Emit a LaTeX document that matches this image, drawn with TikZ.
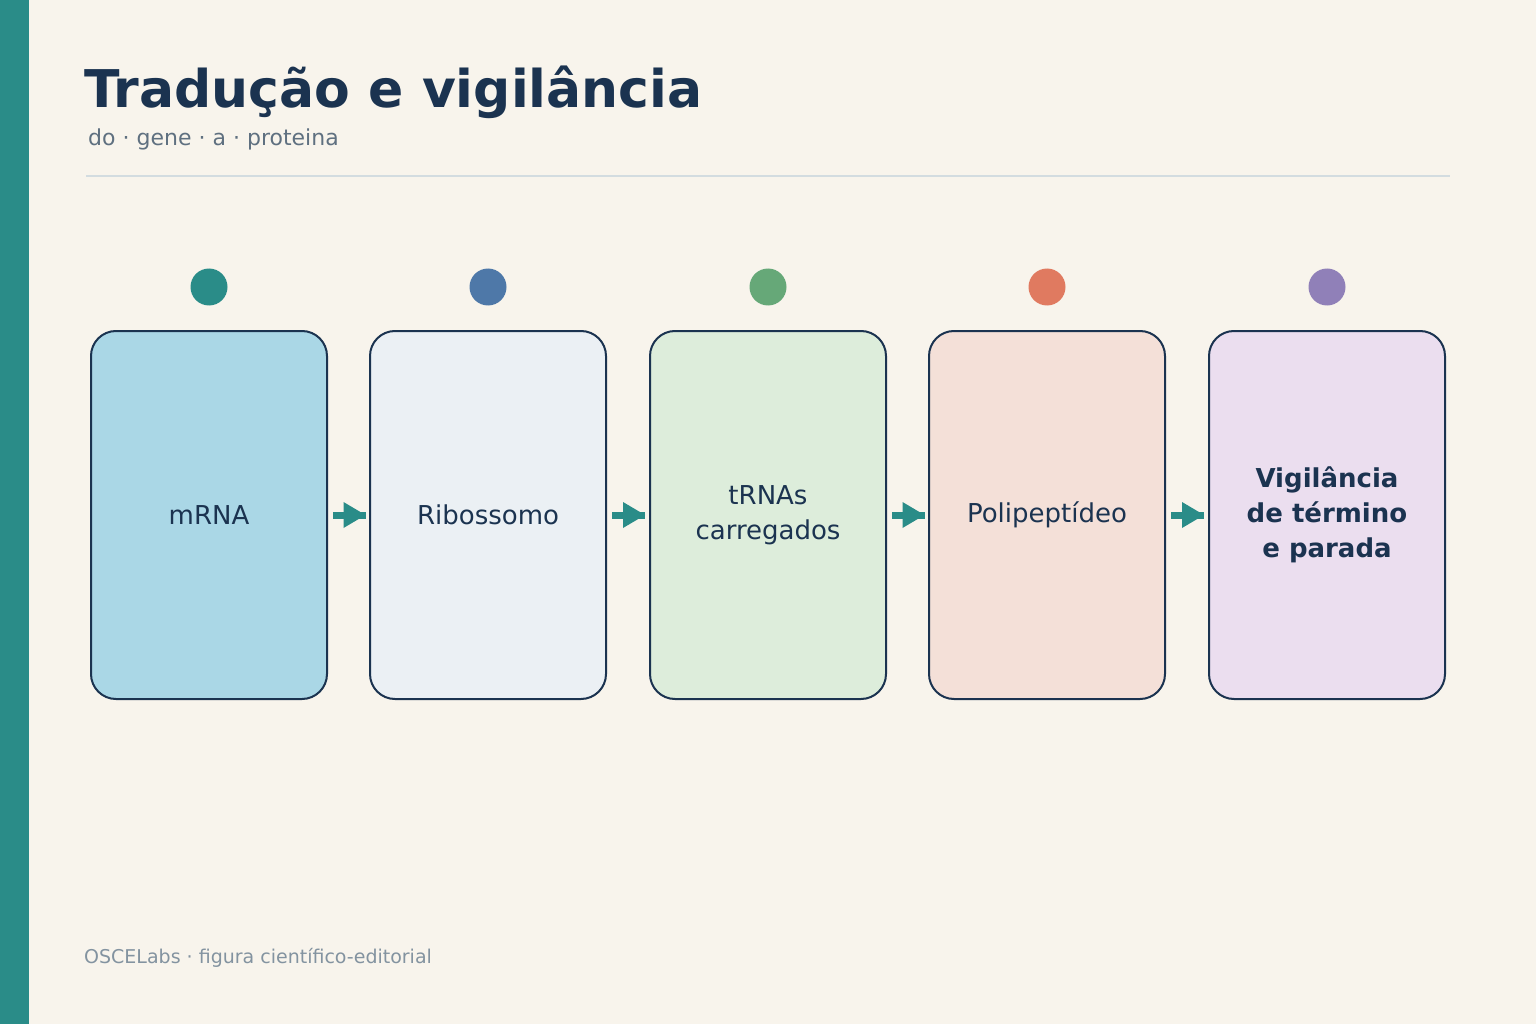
\documentclass[tikz,border=0pt]{standalone}
\usepackage{fontspec}
\setmainfont{DejaVu Sans}
\begin{document}
\definecolor{bg}{HTML}{F8F4EC}
\definecolor{teal}{HTML}{2A8C88}
\definecolor{navy}{HTML}{1B3350}
\definecolor{sub}{HTML}{5F7080}
\definecolor{foot}{HTML}{8393A0}
\definecolor{rule}{HTML}{D3DCE0}
\definecolor{fa}{HTML}{AAD7E6}\definecolor{fb}{HTML}{EBF0F4}\definecolor{fc}{HTML}{DDEDDB}
\definecolor{fd}{HTML}{F4E0D8}\definecolor{fe}{HTML}{EBDEEF}
\definecolor{ca}{HTML}{2A8C88}\definecolor{cb}{HTML}{4E78A8}\definecolor{cc}{HTML}{66A878}
\definecolor{cd}{HTML}{E07A60}\definecolor{ce}{HTML}{9080B8}
\begin{tikzpicture}[x=1pt,y=-1pt,
 box/.style={draw=navy,line width=2pt,rounded corners=25pt,minimum width=236pt,minimum height=368pt,text=navy,font=\fontsize{26}{35}\selectfont,align=center,inner sep=0pt},
 dot/.style={circle,minimum size=37pt,inner sep=0pt},
 arr/.style={fill=teal}]
\useasboundingbox (0,0) rectangle (1536,1024);
\fill[bg] (0,0) rectangle (1536,1024);
\fill[teal] (0,0) rectangle (29,1024);
\node[anchor=base west,text=navy,font=\bfseries\fontsize{52}{60}\selectfont,inner sep=0pt] (title) at (84,108) {Tradução e vigilância};
\node[anchor=base west,text=sub,font=\fontsize{22}{26}\selectfont,inner sep=0pt] (subt) at (88,146) {do · gene · a · proteina};
\draw[rule,line width=2.5pt] (86,176) -- (1450,176);
\foreach \i/\x/\f/\c/\t in {a/209/fa/ca/mRNA, b/488/fb/cb/Ribossomo, c/768/fc/cc/{tRNAs\\carregados}, d/1047/fd/cd/Polipeptídeo, e/1327/fe/ce/{\textbf{Vigilância}\\\textbf{de término}\\\textbf{e parada}}}{
 \node[box,fill=\f] (\i) at (\x,515) {\t};
 \node[dot,fill=\c] (d\i) at (\x,287) {};
}
\foreach \p/\q in {a/b,b/c,c/d,d/e}{
 \path (\p.east) -- (\q.west) coordinate[pos=0.5] (m\p);
 \fill[arr] ([xshift=-16pt,yshift=-3.5pt]m\p) rectangle ([xshift=17pt,yshift=3.5pt]m\p);
 \fill[arr] ([xshift=-5pt,yshift=-13pt]m\p) -- ([xshift=17pt]m\p) -- ([xshift=-5pt,yshift=13pt]m\p) -- cycle;
}
\node[anchor=base west,text=foot,font=\fontsize{19}{22}\selectfont,inner sep=0pt] (foot) at (84,963) {OSCELabs · figura científico-editorial};
\end{tikzpicture}
\end{document}
